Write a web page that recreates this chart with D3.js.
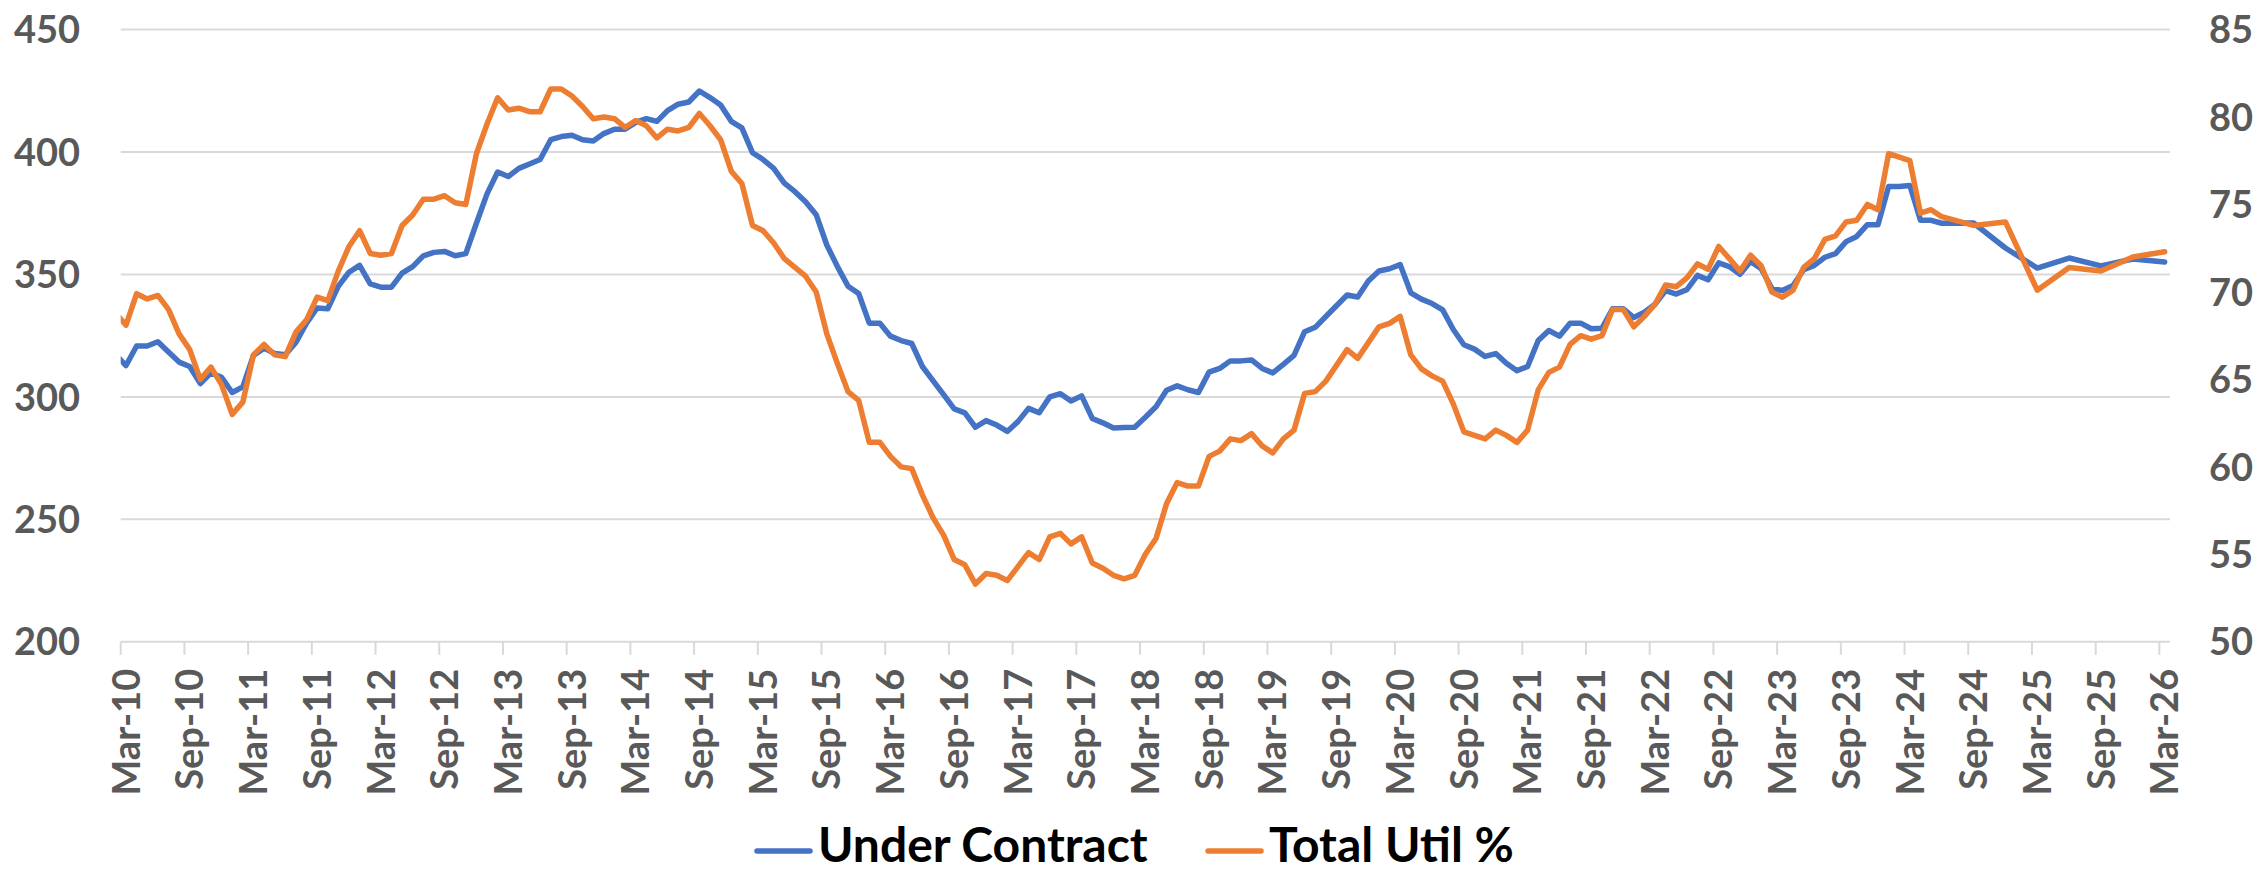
<!DOCTYPE html>
<html>
<style>
    body {
        margin: 0;
        background: #fff;
    }

    .tick-label {
        font-family: Lato, "Open Sans", sans-serif;
        font-weight: bold;
        font-size: 38px;
        fill: #595959;
    }

    .legend-label {
        font-family: Lato, "Open Sans", sans-serif;
        font-weight: bold;
        font-size: 48px;
        fill: #000;
    }

    .grid line {
        stroke: #d9d9d9;
        stroke-width: 2px;
    }
</style>
<script src="https://d3js.org/d3.v7.min.js"></script>

<body>
<svg width="2260" height="873"></svg>
<script>
    // monthly values, first one is Feb-10 (sits just left of the plot and gets clipped)
    const firstMonth = "Feb-10";

    const underContract = [
        317.4,
        312.8, 320.8, 320.8, 322.5, 318.3, 314.2, 312.4, 305.4, 309.8, 308.0, 301.8, 304.1,
        316.9, 319.9, 317.7, 317.2, 322.2, 330.1, 336.3, 336.0, 345.2, 350.9, 353.7, 346.1,
        344.8, 344.8, 350.5, 353.2, 357.6, 359.0, 359.4, 357.6, 358.5, 370.9, 382.9, 391.8,
        390.0, 393.3, 395.1, 396.9, 405.0, 406.3, 406.8, 405.0, 404.5, 407.5, 409.3, 409.3,
        412.1, 413.6, 412.5, 416.9, 419.5, 420.4, 424.9, 422.2, 419.2, 412.5, 409.8, 399.7,
        396.9, 393.3, 387.3, 383.8, 379.7, 374.4, 362.0, 353.2, 345.2, 342.2, 330.1, 330.1,
        324.8, 323.0, 321.8, 312.4, 306.6, 300.9, 295.1, 293.5, 287.6, 290.3, 288.5, 285.9,
        289.9, 295.3, 293.5, 300.0, 301.3, 298.3, 300.4, 291.2, 289.4, 287.3, 287.5, 287.6,
        291.7, 296.0, 302.7, 304.5, 302.9, 301.8, 310.1, 311.6, 314.7, 314.7, 315.1, 311.6,
        309.8, 313.3, 316.9, 326.6, 328.4, 332.8, 337.2, 341.6, 340.8, 347.3, 351.4, 352.3,
        354.0, 342.5, 339.9, 338.1, 335.5, 327.5, 321.3, 319.5, 316.5, 317.7, 313.7, 310.7,
        312.4, 323.0, 327.1, 324.8, 330.1, 330.1, 327.8, 328.0, 336.0, 336.0, 332.4, 334.6,
        337.8, 343.4, 342.0, 343.8, 349.6, 347.8, 354.7, 353.2, 350.1, 355.3, 352.3, 344.3,
        343.4, 345.5, 351.9, 353.7, 357.0, 358.5, 363.4, 365.5, 370.3, 370.3, 385.9, 385.9,
        386.3, 372.1, 372.1, 370.9, null, null, 371.0, null, null, 360.8, null, null,
        352.6, null, null, 356.7, null, null, 353.5, null, null, 356.3, null, null,
        355.1
    ];

    const totalUtil = [
        68.8,
        68.1, 69.9, 69.6, 69.8, 69.0, 67.6, 66.7, 65.0, 65.7, 64.7, 63.0, 63.7,
        66.4, 67.0, 66.4, 66.3, 67.7, 68.4, 69.7, 69.5, 71.2, 72.6, 73.5, 72.2,
        72.1, 72.2, 73.8, 74.4, 75.3, 75.3, 75.5, 75.1, 75.0, 77.9, 79.6, 81.1,
        80.4, 80.5, 80.3, 80.3, 81.6, 81.6, 81.2, 80.6, 79.9, 80.0, 79.9, 79.4,
        79.8, 79.5, 78.8, 79.3, 79.2, 79.4, 80.2, 79.5, 78.7, 76.9, 76.2, 73.8,
        73.5, 72.8, 71.9, 71.4, 70.9, 70.0, 67.6, 65.9, 64.3, 63.8, 61.4, 61.4,
        60.6, 60.0, 59.9, 58.4, 57.1, 56.1, 54.7, 54.4, 53.3, 53.9, 53.8, 53.5,
        54.3, 55.1, 54.7, 56.0, 56.2, 55.6, 56.0, 54.5, 54.2, 53.8, 53.6, 53.8,
        55.0, 55.9, 57.9, 59.1, 58.9, 58.9, 60.6, 60.9, 61.6, 61.5, 61.9, 61.2,
        60.8, 61.6, 62.1, 64.2, 64.3, 64.9, 65.8, 66.7, 66.2, 67.1, 68.0, 68.2,
        68.6, 66.4, 65.6, 65.2, 64.9, 63.6, 62.0, 61.8, 61.6, 62.1, 61.8, 61.4,
        62.1, 64.4, 65.4, 65.7, 67.0, 67.5, 67.3, 67.5, 69.0, 69.0, 68.0, 68.6,
        69.3, 70.4, 70.3, 70.8, 71.6, 71.3, 72.6, 71.9, 71.2, 72.1, 71.5, 70.0,
        69.7, 70.1, 71.4, 71.9, 73.0, 73.2, 74.0, 74.1, 75.0, 74.7, 77.9, 77.7,
        77.5, 74.5, 74.7, 74.3, null, null, 73.8, null, null, 74.0, null, null,
        70.1, null, null, 71.4, null, null, 71.2, null, null, 72.0, null, null,
        72.3
    ];

    const tickLabels = ["Mar-10", "Sep-10", "Mar-11", "Sep-11", "Mar-12", "Sep-12", "Mar-13", "Sep-13",
        "Mar-14", "Sep-14", "Mar-15", "Sep-15", "Mar-16", "Sep-16", "Mar-17", "Sep-17",
        "Mar-18", "Sep-18", "Mar-19", "Sep-19", "Mar-20", "Sep-20", "Mar-21", "Sep-21",
        "Mar-22", "Sep-22", "Mar-23", "Sep-23", "Mar-24", "Sep-24", "Mar-25", "Sep-25", "Mar-26"];
    const leftTicks = [200, 250, 300, 350, 400, 450];
    const rightTicks = [50, 55, 60, 65, 70, 75, 80, 85];
    const seriesNames = ["Under Contract", "Total Util %"];
    const seriesColors = ["#4472C4", "#ED7D31"];

    const svg = d3.select("svg");
    const plotLeft = 120.7, plotRight = 2170, plotTop = 29.5, plotBottom = 641.8;

    // x in months from the Mar-10 tick; points sit mid-month
    const x = d3.scaleLinear().domain([0, 193]).range([plotLeft, plotRight]);
    const yLeft = d3.scaleLinear().domain([200, 450]).range([plotBottom, plotTop]);
    const yRight = d3.scaleLinear().domain([50, 85]).range([plotBottom, plotTop]);

    // gridlines
    svg.append("g").attr("class", "grid")
        .selectAll("line")
        .data(leftTicks)
        .join("line")
        .attr("x1", plotLeft).attr("x2", plotRight)
        .attr("y1", d => yLeft(d)).attr("y2", d => yLeft(d));

    // x tick marks and rotated labels
    const xTicks = svg.append("g");
    xTicks.selectAll("line")
        .data(tickLabels)
        .join("line")
        .attr("x1", (d, i) => x(i * 6)).attr("x2", (d, i) => x(i * 6))
        .attr("y1", plotBottom).attr("y2", plotBottom + 13)
        .attr("stroke", "#d9d9d9").attr("stroke-width", 2);
    xTicks.selectAll("text")
        .data(tickLabels)
        .join("text")
        .attr("class", "tick-label")
        .attr("text-anchor", "end")
        .attr("dy", "0.36em")
        .attr("transform", (d, i) => `translate(${x(i * 6 + 0.5)},${plotBottom + 27}) rotate(-90)`)
        .text(d => d);

    // left axis labels
    svg.append("g").selectAll("text")
        .data(leftTicks)
        .join("text")
        .attr("class", "tick-label")
        .attr("text-anchor", "end")
        .attr("x", 80)
        .attr("y", d => yLeft(d))
        .attr("dy", "0.36em")
        .text(d => d);

    // right axis labels
    svg.append("g").selectAll("text")
        .data(rightTicks)
        .join("text")
        .attr("class", "tick-label")
        .attr("x", 2209)
        .attr("y", d => yRight(d))
        .attr("dy", "0.36em")
        .text(d => d);

    svg.append("clipPath").attr("id", "plot-clip")
        .append("rect")
        .attr("x", plotLeft).attr("y", 0)
        .attr("width", plotRight - plotLeft).attr("height", 873);

    function points(values) {
        // skip empty months, the line just joins the quarters
        return values.map((v, i) => ({m: i - 0.5, v: v})).filter(d => d.v !== null);
    }

    const lineLeft = d3.line().x(d => x(d.m)).y(d => yLeft(d.v));
    const lineRight = d3.line().x(d => x(d.m)).y(d => yRight(d.v));

    const lines = svg.append("g").attr("clip-path", "url(#plot-clip)");
    lines.append("path")
        .attr("d", lineLeft(points(underContract)))
        .attr("fill", "none")
        .attr("stroke", seriesColors[0])
        .attr("stroke-width", 5.5)
        .attr("stroke-linejoin", "round")
        .attr("stroke-linecap", "round");
    lines.append("path")
        .attr("d", lineRight(points(totalUtil)))
        .attr("fill", "none")
        .attr("stroke", seriesColors[1])
        .attr("stroke-width", 5.5)
        .attr("stroke-linejoin", "round")
        .attr("stroke-linecap", "round");

    // legend
    const legendX = [757, 1208];
    const legend = svg.append("g").selectAll("g")
        .data(seriesNames)
        .join("g")
        .attr("transform", (d, i) => `translate(${legendX[i]},851)`);
    legend.append("line")
        .attr("x1", 0).attr("x2", 53)
        .attr("stroke", (d, i) => seriesColors[i])
        .attr("stroke-width", 5.5)
        .attr("stroke-linecap", "round");
    legend.append("text")
        .attr("class", "legend-label")
        .attr("x", 61)
        .attr("y", 11)
        .text(d => d);
</script>
</body>
</html>
